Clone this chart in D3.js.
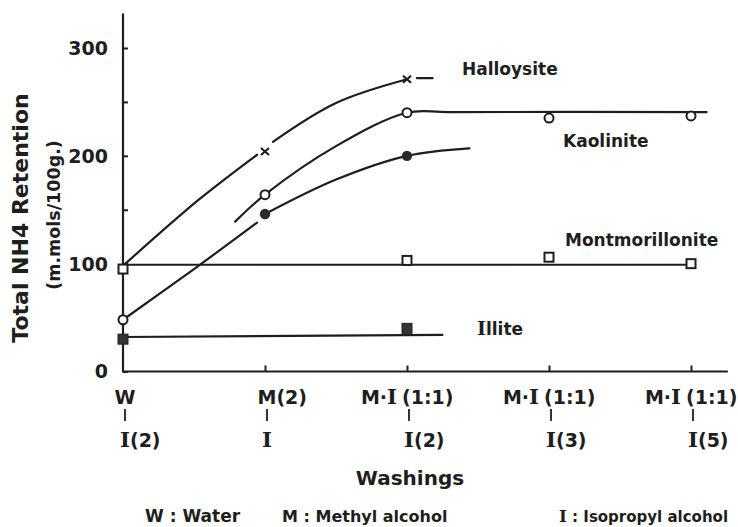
<!DOCTYPE html>
<html>
<head>
<meta charset="utf-8">
<script src="https://cdn.jsdelivr.net/npm/d3@7"></script>
<style>
  html, body { margin: 0; padding: 0; background: #ffffff; }
  svg { display: block; }
  text { fill: #1e1e1e; font-family: "DejaVu Sans", sans-serif; font-weight: bold; }
</style>
</head>
<body>
<svg id="chart" width="738" height="527"></svg>
<script>
// ---------- data ----------
const washRow1 = ["W", "M(2)", "M·I (1:1)", "M·I (1:1)", "M·I (1:1)"];
const washRow2 = ["I(2)", "I", "I(2)", "I(3)", "I(5)"];
const yTicks = [0, 100, 200, 300];
const yMinorTicks = [50, 150, 250];

// marker values at each washing (null = no point)
const halloysite      = [null, 204, 271, null, null];
const kaolinite       = [48, 164, 240, 235, 237];
const kaoliniteFilled = [null, 146, 200, null, null];
const montmorillonite = [95, null, 103, 106, 100];
const illite          = [30, null, 40, null, null];

// hand-drawn curve traces: [washing position, value]
const halloysiteCurve = [
  [[0, 98], [0.54, 160], [0.944, 201]],
  [[1.056, 213], [1.5, 249], [2, 271]],
  [[2.07, 272], [2.18, 272]]
];
const kaoliniteCurve = [
  [[0.79, 139], [1, 164], [1.5, 209], [2, 240], [2.3, 240.6], [4.11, 240.6]]
];
const kaoliniteFilledCurve = [
  [[0, 48], [0.5, 95], [0.944, 138]],
  [[1, 146], [1.5, 178], [2, 200], [2.44, 207]]
];
const montmorilloniteCurve = [[[0, 99], [4.03, 99]]];
const illiteCurve = [[[0, 32], [2.25, 34]]];

const curveLabels = ["Halloysite", "Kaolinite", "Montmorillonite", "Illite"];
const legendItems = ["W : Water", "M : Methyl alcohol", "I : Isopropyl alcohol"];

// ---------- layout ----------
const svg = d3.select("#chart");
const x = d3.scaleLinear().domain([0, 4]).range([123, 691]);
const y = d3.scaleLinear().domain([0, 300]).range([371.5, 48]);
const ink = "#1e1e1e";

// axes
const yAxis = d3.axisRight(y).tickValues(yTicks.concat(yMinorTicks)).tickSize(5).tickFormat("");
const gy = svg.append("g").attr("transform", `translate(${x(0)},0)`).call(yAxis);
gy.select(".domain").remove();
gy.selectAll(".tick line").attr("stroke", ink).attr("stroke-width", 2);
svg.append("line").attr("x1", x(0)).attr("x2", x(0)).attr("y1", y(332)).attr("y2", y(0))
  .attr("stroke", ink).attr("stroke-width", 2.2);

const xAxis = d3.axisTop(x).tickValues([1, 2, 3, 4]).tickSize(6).tickFormat("");
const gx = svg.append("g").attr("transform", `translate(0,${y(0)})`).call(xAxis);
gx.select(".domain").remove();
gx.selectAll(".tick line").attr("stroke", ink).attr("stroke-width", 2);
svg.append("line").attr("x1", x(0) - 1).attr("x2", x(4.26)).attr("y1", y(0)).attr("y2", y(0))
  .attr("stroke", ink).attr("stroke-width", 2.2);

// y tick labels
svg.append("g").selectAll("text").data(yTicks).join("text")
  .attr("x", 108).attr("y", d => y(d)).attr("dy", "0.36em")
  .attr("text-anchor", "end").attr("font-size", 19).text(d => d);

// helper: text with serif capital I
function richText(sel, str) {
  const parts = str.split(/(I)/).filter(s => s.length);
  parts.forEach(p => {
    const t = sel.append("tspan").text(p);
    if (p === "I") t.attr("font-family", "'DejaVu Serif', serif").attr("font-size", "1.12em");
  });
}

// x tick labels (two rows)
washRow1.forEach((lab, i) => {
  const cx = x(i);
  if (lab.includes(" ")) {
    const [a, b] = lab.split(" ");
    const t1 = svg.append("text").attr("y", 404).attr("font-size", 19).attr("text-anchor", "end").attr("x", cx - 10);
    richText(t1, a);
    const t2 = svg.append("text").attr("y", 404).attr("font-size", 19).attr("x", cx - 5);
    richText(t2, b);
  } else {
    const t = svg.append("text").attr("y", 404).attr("font-size", 19);
    const tmp = svg.append("text").attr("font-size", 19).text(lab[0]);
    const w = tmp.node().getComputedTextLength(); tmp.remove();
    t.attr("x", cx + 2 - w / 2);
    richText(t, lab);
  }
  svg.append("line").attr("x1", cx + 2).attr("x2", cx + 2).attr("y1", 409).attr("y2", 421)
    .attr("stroke", ink).attr("stroke-width", 1.8);
});
washRow2.forEach((lab, i) => {
  const cx = x(i);
  const t = svg.append("text").attr("y", 447).attr("font-size", 19);
  richText(t, lab);
  const first = t.select("tspan").node();
  const w = first.getComputedTextLength();
  t.attr("x", cx + 2 - w / 2);
});

// axis titles
svg.append("text").attr("transform", "translate(28,218) rotate(-90)")
  .attr("text-anchor", "middle").attr("font-size", 22).text("Total NH4 Retention");
svg.append("text").attr("transform", "translate(60,215) rotate(-90)")
  .attr("text-anchor", "middle").attr("font-size", 17.5).text("(m.mols/100g.)");
svg.append("text").attr("x", 410).attr("y", 485).attr("text-anchor", "middle")
  .attr("font-size", 20).text("Washings");

// legend
const legendX = [145, 282, 559];
const legendSize = [17, 16, 15];
legendItems.forEach((s, i) => {
  const t = svg.append("text").attr("x", legendX[i]).attr("y", 522).attr("font-size", legendSize[i]);
  if (i === 2) {
    t.append("tspan").text("I").attr("font-family", "'DejaVu Serif', serif").attr("font-size", "1.12em");
    t.append("tspan").text(s.slice(1));
  } else t.text(s);
});

// curves
const line = d3.line().x(d => x(d[0])).y(d => y(d[1])).curve(d3.curveCatmullRom.alpha(0.5));
const curves = [halloysiteCurve, kaoliniteCurve, kaoliniteFilledCurve, montmorilloniteCurve, illiteCurve];
const gl = svg.append("g");
curves.forEach(segs => segs.forEach(seg => {
  gl.append("path").attr("d", line(seg)).attr("fill", "none").attr("stroke", ink)
    .attr("stroke-width", 2.2).attr("stroke-linecap", "round");
}));

// markers
const pts = arr => arr.map((v, i) => [i, v]).filter(d => d[1] !== null);
const gm = svg.append("g");
gm.selectAll(".hal").data(pts(halloysite)).join("path")
  .attr("transform", d => `translate(${x(d[0])},${y(d[1])})`)
  .attr("d", "M-4,-3.5L4,3.5M-4,3.5L4,-3.5").attr("stroke", ink).attr("stroke-width", 2.2);
gm.selectAll(".kao").data(pts(kaolinite)).join("circle")
  .attr("cx", d => x(d[0])).attr("cy", d => y(d[1])).attr("r", 4.5)
  .attr("fill", "#fff").attr("stroke", ink).attr("stroke-width", 2);
gm.selectAll(".kaof").data(pts(kaoliniteFilled)).join("circle")
  .attr("cx", d => x(d[0])).attr("cy", d => y(d[1])).attr("r", 5.2).attr("fill", "#2a2a2a");
gm.selectAll(".mon").data(pts(montmorillonite)).join("rect")
  .attr("x", d => x(d[0]) - 4.5).attr("y", d => y(d[1]) - 4.5).attr("width", 9).attr("height", 9)
  .attr("fill", "#fff").attr("stroke", ink).attr("stroke-width", 2);
gm.selectAll(".ill").data(pts(illite)).join("rect")
  .attr("x", d => x(d[0]) - 5).attr("y", d => y(d[1]) - 5).attr("width", 10).attr("height", 10)
  .attr("fill", "#333").attr("stroke", ink).attr("stroke-width", 1);

// curve labels
const labelPos = [[462, 75], [563, 147], [565, 246], [477, 335]];
curveLabels.forEach((s, i) => {
  const t = svg.append("text").attr("x", labelPos[i][0]).attr("y", labelPos[i][1]).attr("font-size", 17);
  if (s === "Illite") {
    t.append("tspan").text("I").attr("font-family", "'DejaVu Serif', serif").attr("font-size", "1.12em");
    t.append("tspan").text("llite");
  } else t.text(s);
});
</script>
</body>
</html>
